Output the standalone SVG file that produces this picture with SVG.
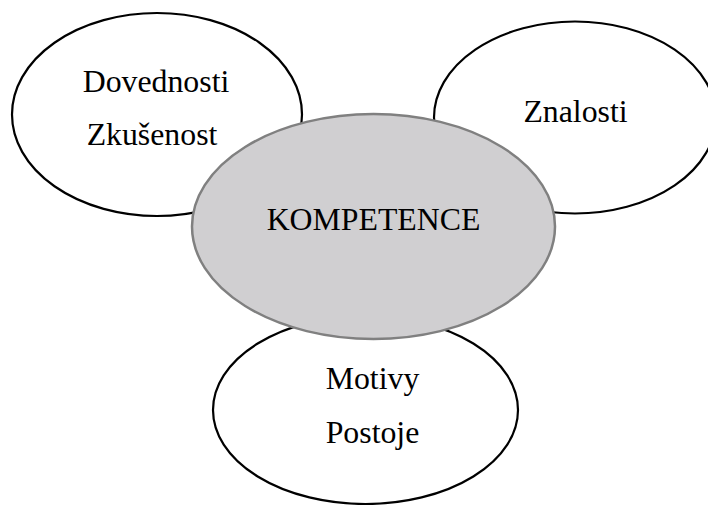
<svg xmlns="http://www.w3.org/2000/svg" width="708" height="505" viewBox="0 0 708 505">
<style>
.outer{fill:#ffffff;stroke:#000000;stroke-width:2.2}
.core{fill:#d0cfd1;stroke:#808080;stroke-width:2.5}
text{font-family:"Liberation Serif","Times New Roman",serif;font-size:31.8px;fill:#000000;text-anchor:middle}
</style>
<rect width="708" height="505" fill="#ffffff"/>
<g id="node-dovednosti">
<ellipse class="outer" cx="157" cy="114.5" rx="145" ry="101.5"/>
<text x="156" y="92">Dovednosti</text>
<text x="152" y="145">Zkušenost</text>
</g>
<g id="node-znalosti">
<ellipse class="outer" cx="575" cy="117.5" rx="141" ry="96"/>
<text x="575.5" y="122">Znalosti</text>
</g>
<g id="node-motivy">
<ellipse class="outer" cx="365.5" cy="410" rx="152.5" ry="94"/>
<text x="372.5" y="389">Motivy</text>
<text x="372.5" y="443">Postoje</text>
</g>
<g id="node-kompetence">
<ellipse class="core" cx="373.5" cy="226.5" rx="181.5" ry="112.5"/>
<text x="373.5" y="230">KOMPETENCE</text>
</g>
<g id="connectors"></g>
</svg>
